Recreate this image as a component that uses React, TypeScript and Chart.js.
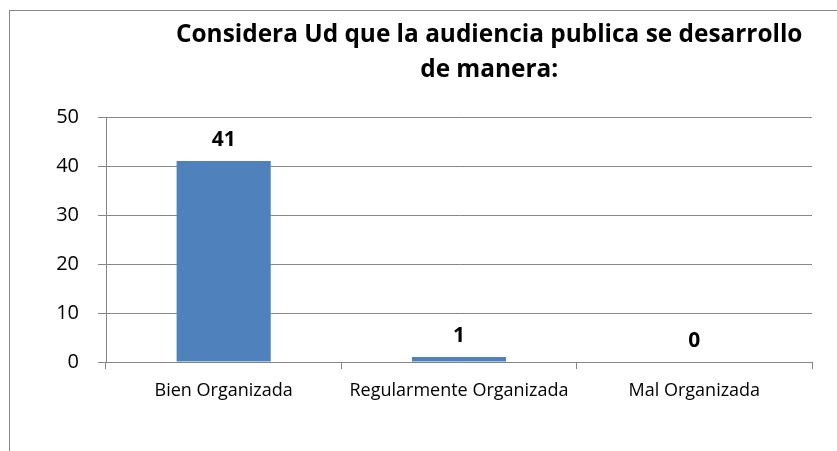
import React, { useEffect, useRef } from "react";
import { Chart, registerables } from "chart.js";

Chart.register(...registerables);

const categories = ["Bien Organizada", "Regularmente Organizada", "Mal Organizada"];
const values = [41, 1, 0];
const titleLines = ["Considera Ud que la audiencia publica se desarrollo", "de manera:"];
const yMin = 0;
const yMax = 50;
const yStep = 10;

const FONT = "'Open Sans', Lato, sans-serif";
const GRID = "#868686";

const titlePlugin = {
  id: "customTitle",
  afterDraw(chart: any) {
    const ctx = chart.ctx;
    ctx.save();
    ctx.fillStyle = "#000";
    ctx.font = `bold 24.4px ${FONT}`;
    ctx.textAlign = "center";
    ctx.textBaseline = "alphabetic";
    const cx = chart.width * 0.5845;
    ctx.fillText(titleLines[0], cx, 42);
    ctx.fillText(titleLines[1], cx, 77);
    ctx.restore();
  },
};

const labelPlugin = {
  id: "valueLabels",
  afterDatasetsDraw(chart: any) {
    const ctx = chart.ctx;
    const meta = chart.getDatasetMeta(0);
    ctx.save();
    ctx.fillStyle = "#000";
    ctx.font = `bold 21px ${FONT}`;
    ctx.textAlign = "center";
    ctx.textBaseline = "alphabetic";
    meta.data.forEach((bar: any, i: number) => {
      ctx.fillText(String(values[i]), bar.x, bar.y - 15);
    });
    ctx.restore();
  },
};

export default function App() {
  const ref = useRef<HTMLCanvasElement | null>(null);
  useEffect(() => {
    if (!ref.current) return;
    const chart = new Chart(ref.current, {
      type: "bar",
      data: {
        labels: categories,
        datasets: [
          {
            data: values,
            backgroundColor: "#4F81BD",
            borderWidth: 0,
            barPercentage: 0.4,
            categoryPercentage: 1,
          },
        ],
      },
      options: {
        animation: false,
        responsive: false,
        maintainAspectRatio: false,
        layout: { padding: { left: 0, right: 25, top: 117, bottom: 0 } },
        plugins: { legend: { display: false }, title: { display: false }, tooltip: { enabled: false } },
        scales: {
          x: {
            grid: {
              offset: true,
              drawOnChartArea: false,
              drawTicks: true,
              tickLength: 7,
              color: GRID,
            },
            border: { color: GRID, width: 1 },
            ticks: { color: "#000", font: { family: FONT, size: 18 }, padding: 11, maxRotation: 0 },
            afterFit(scale: any) {
              scale.height = 89;
            },
          },
          y: {
            min: yMin,
            max: yMax,
            ticks: { stepSize: yStep, color: "#000", font: { family: FONT, size: 20 }, padding: 19 },
            grid: { color: GRID, tickLength: 8, drawTicks: true },
            border: { color: GRID, width: 1 },
            afterFit(scale: any) {
              scale.width = 106;
            },
          },
        },
      },
      plugins: [titlePlugin, labelPlugin],
    });
    return () => chart.destroy();
  }, []);
  return (
    <div style={{ position: "fixed", left: 0, top: 0, width: 837, height: 451, background: "#fff", overflow: "hidden" }}>
      <div
        style={{
          position: "absolute",
          left: 9,
          top: 10,
          width: 1000,
          height: 1000,
          borderLeft: `1px solid ${GRID}`,
          borderTop: `1px solid ${GRID}`,
        }}
      />
      <canvas ref={ref} width={837} height={451} style={{ position: "absolute", left: 0, top: 0 }} />
    </div>
  );
}
